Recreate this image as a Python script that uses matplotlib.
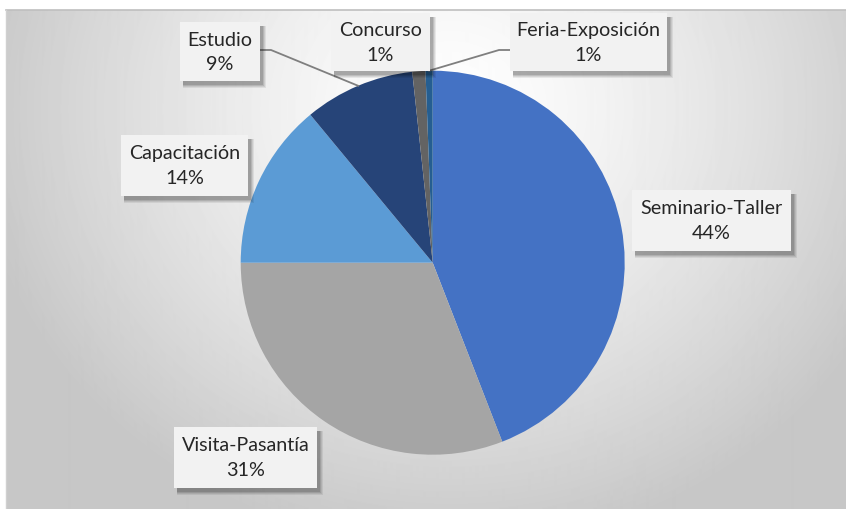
import numpy as np
import matplotlib
matplotlib.use("Agg")
import matplotlib.pyplot as plt
from matplotlib.patches import Rectangle

# data (share of activities)
categories = ["Seminario-Taller", "Visita-Pasantía", "Capacitación",
              "Estudio", "Concurso", "Feria-Exposición"]
values = [44.1, 30.9, 14.0, 9.3, 1.1, 0.6]
colors = ["#4472C4", "#A5A5A5", "#5B9BD5", "#264478", "#636363", "#255E91"]

W, H = 846, 510
fig = plt.figure(figsize=(W / 100, H / 100), dpi=100)
fig.patch.set_facecolor("white")

# background: chart area with a soft radial gradient
fx0, fy0 = 6, 11  # top-left of chart area (px)
bg = fig.add_axes([fx0 / W, 0, (W - fx0) / W, (H - fy0) / H], zorder=0)
yy, xx = np.mgrid[fy0:H, fx0:W]
d = np.sqrt(((xx - 450) / 480.0) ** 2 + ((yy - 110) / 440.0) ** 2)
d = np.clip(d, 0, 1) ** 1.3
grad = 1.0 - d * (1.0 - 0.78)
bg.imshow(grad, cmap="gray", vmin=0, vmax=1, aspect="auto",
          extent=[fx0, W, H, fy0], interpolation="bilinear")
bg.set_xlim(fx0, W)
bg.set_ylim(H, fy0)
bg.axis("off")

# pie
cx, cy, R = 432.7, 263.7, 192.0
pie_ax = fig.add_axes([(cx - R) / W, (H - cy - R) / H, 2 * R / W, 2 * R / H], zorder=1)
pie_ax.pie(values, colors=colors, startangle=90, counterclock=False,
           radius=1, wedgeprops=dict(linewidth=0))
pie_ax.set_xlim(-1, 1)
pie_ax.set_ylim(-1, 1)
pie_ax.set_aspect("equal")
pie_ax.axis("off")

# overlay in pixel coordinates for labels
ov = fig.add_axes([0, 0, 1, 1], zorder=2)
ov.set_xlim(0, W)
ov.set_ylim(H, 0)
ov.axis("off")
ov.patch.set_visible(False)
ov.plot([fx0, W], [fy0, fy0], color="#bfbfbf", lw=1.2)
ov.plot([fx0, fx0], [fy0, H], color="#d0d0d0", lw=1.0)

total = sum(values)
cum = np.cumsum([0] + values) / total
mid = (cum[:-1] + cum[1:]) / 2 * 2 * np.pi  # clockwise from top


def edge_point(a):
    return cx + R * np.sin(a), cy - R * np.cos(a)


boxes = {
    "Seminario-Taller": (632, 191, 791, 252),
    "Visita-Pasantía": (174, 428, 317, 489),
    "Capacitación": (121, 136, 248, 197),
    "Estudio": (180, 23, 260, 82),
    "Concurso": (331, 14, 430, 72),
    "Feria-Exposición": (510, 14, 667, 72),
}

# leader lines
lc = "#7f7f7f"
i = categories.index("Estudio")
ex, ey = edge_point(mid[i])
x0, y0, x1, y1 = boxes["Estudio"]
ov.plot([x1, x1 + 11, ex], [51, 51, ey], color=lc, lw=1.3, zorder=1)
i = categories.index("Feria-Exposición")
ex, ey = edge_point(mid[i])
x0, y0, x1, y1 = boxes["Feria-Exposición"]
ov.plot([x0, x0 - 11, ex], [51, 51, ey], color=lc, lw=1.3, zorder=1)

for name, v in zip(categories, values):
    x0, y0, x1, y1 = boxes[name]
    w, h = x1 - x0, y1 - y0
    # soft shadow
    for k, a in enumerate([0.07, 0.08, 0.10, 0.12]):
        off = 5 - k
        grow = 3 - k
        ov.add_patch(Rectangle((x0 + off - grow + 1, y0 + off - grow + 2), w + grow,
                               h + grow, facecolor="black", alpha=a,
                               edgecolor="none", zorder=2))
    ov.add_patch(Rectangle((x0, y0), w, h, facecolor="#F2F2F2",
                           edgecolor="none", zorder=3))
    xm, ym = (x0 + x1) / 2, (y0 + y1) / 2
    ov.text(xm, ym - 12.5, name, ha="center", va="center", fontsize=14.2,
            family="Lato", color="#262626", zorder=4)
    ov.text(xm, ym + 12.5, f"{round(v)}%", ha="center", va="center",
            fontsize=14.2, family="Lato", color="#262626", zorder=4)

fig.savefig("out.png", dpi=100)
